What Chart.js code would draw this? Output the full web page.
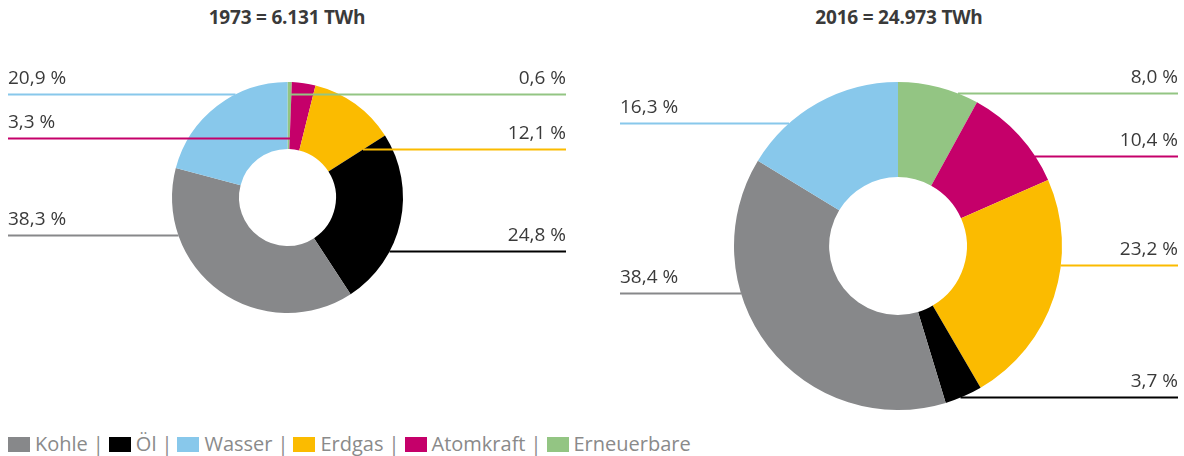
<!DOCTYPE html>
<html>
<head>
<meta charset="utf-8">
<script src="https://cdn.jsdelivr.net/npm/chart.js@4/dist/chart.umd.min.js"></script>
<style>
  html, body { margin: 0; padding: 0; background: #fff; }
  body { width: 1184px; height: 456px; position: relative; overflow: hidden; font-family: "Open Sans", sans-serif; }
  canvas { position: absolute; top: 0; }
  #chart1973 { left: 0; }
  #chart2016 { left: 600px; }
  .title { position: absolute; top: 8px; width: 400px; text-align: center; font-weight: 700; font-size: 19px; line-height: 19px; color: #3a3a3a; letter-spacing: -0.2px; }
  #legend { position: absolute; left: 8px; top: 431px; display: flex; align-items: center; font-size: 20px; line-height: 26px; color: #8a8a8a; }
  #legend .box { display: inline-block; width: 22px; height: 15px; margin-right: 5px; }
  #legend .sep { margin: 0 5px; }
</style>
</head>
<body>
<div class="title" style="left: 87px;">1973 = 6.131 TWh</div>
<div class="title" style="left: 699px;">2016 = 24.973 TWh</div>
<canvas id="chart1973" width="580" height="425"></canvas>
<canvas id="chart2016" width="584" height="425"></canvas>
<div id="legend"></div>
<script>
// legend order
const categories = ['Kohle', 'Öl', 'Wasser', 'Erdgas', 'Atomkraft', 'Erneuerbare'];
const colors = ['#87888a', '#000000', '#88c8eb', '#fbbb00', '#c5006a', '#93c583'];
const values1973 = [38.3, 24.8, 20.9, 12.1, 3.3, 0.6];
const values2016 = [38.4, 3.7, 16.3, 23.2, 10.4, 8.0];

// clockwise from the top: Erneuerbare, Atomkraft, Erdgas, Öl, Kohle, Wasser
const sliceOrder = [5, 4, 3, 1, 0, 2];

function fmt(v) {
  return v.toFixed(1).replace('.', ',') + ' %';
}

// horizontal leader lines with the percentage above them
const leaderPlugin = {
  id: 'leaders',
  afterDatasetsDraw(chart, args, opts) {
    const ctx = chart.ctx;
    const meta = chart.getDatasetMeta(0);
    const ds = chart.data.datasets[0];
    meta.data.forEach((arc, i) => {
      const cat = sliceOrder[i];
      const { x: cx, y: cy, outerRadius } = arc.getProps(['x', 'y', 'outerRadius'], true);
      const y = Math.round(cy + opts.offsets[cat] * outerRadius) + 0.5;
      const left = opts.sides[cat] === 'l';
      const edge = left ? opts.left : chart.width - opts.right;

      // walk in from the label side until we hit the slice
      const step = left ? 0.5 : -0.5;
      let x = left ? cx - outerRadius - 2 : cx + outerRadius + 2;
      let guard = 0;
      while (!arc.inRange(x, y, true) && guard < 4 * outerRadius + 10) {
        x += step;
        guard++;
      }

      ctx.save();
      ctx.strokeStyle = ds.backgroundColor[i];
      ctx.lineWidth = 2;
      ctx.beginPath();
      ctx.moveTo(edge, y);
      ctx.lineTo(x, y);
      ctx.stroke();

      ctx.fillStyle = '#3a3a3a';
      ctx.font = '19px "Open Sans"';
      ctx.textAlign = left ? 'left' : 'right';
      ctx.textBaseline = 'alphabetic';
      ctx.fillText(fmt(ds.data[i]), edge, y - 11);
      ctx.restore();
    });
  }
};

function makeDonut(id, values, padding, leaders) {
  const ctx = document.getElementById(id);
  new Chart(ctx, {
    type: 'doughnut',
    data: {
      labels: sliceOrder.map(i => categories[i]),
      datasets: [{
        data: sliceOrder.map(i => values[i]),
        backgroundColor: sliceOrder.map(i => colors[i]),
        borderWidth: 0
      }]
    },
    options: {
      responsive: false,
      animation: false,
      cutout: '42%',
      layout: { padding: padding },
      plugins: {
        legend: { display: false },
        tooltip: { enabled: false },
        leaders: leaders
      }
    },
    plugins: [leaderPlugin]
  });
}

makeDonut('chart1973', values1973,
  { left: 172, right: 177, top: 82, bottom: 112 },
  {
    left: 8, right: 14,
    sides: ['l', 'r', 'l', 'r', 'l', 'r'],
    offsets: [0.329, 0.459, -0.900, -0.424, -0.519, -0.900]
  });

makeDonut('chart2016', values2016,
  { left: 134, right: 122, top: 82, bottom: 15 },
  {
    left: 20, right: 6,
    sides: ['l', 'r', 'l', 'r', 'r', 'r'],
    offsets: [0.284, 0.918, -0.747, 0.113, -0.546, -0.930]
  });

// legend: swatch + name, separated by |
const legend = document.getElementById('legend');
categories.forEach((name, i) => {
  if (i > 0) {
    const sep = document.createElement('span');
    sep.className = 'sep';
    sep.textContent = '|';
    legend.appendChild(sep);
  }
  const box = document.createElement('span');
  box.className = 'box';
  box.style.background = colors[i];
  legend.appendChild(box);
  const label = document.createElement('span');
  label.textContent = name;
  legend.appendChild(label);
});
</script>
</body>
</html>
